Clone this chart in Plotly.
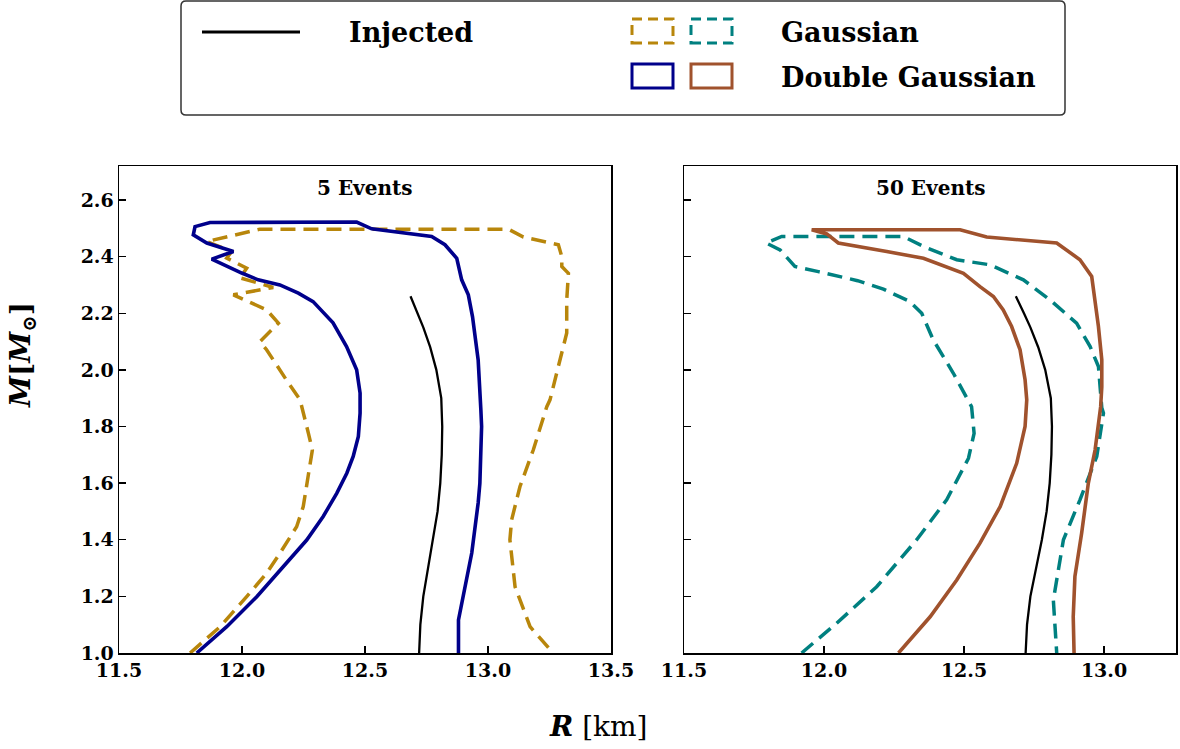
import plotly.graph_objects as go

# ---------------- data ----------------
inj_R = [12.72, 12.725, 12.737, 12.757, 12.778, 12.795, 12.806, 12.812, 12.814, 12.81, 12.79, 12.765, 12.737, 12.714, 12.685]
inj_M = [1.00, 1.10, 1.20, 1.30, 1.40, 1.50, 1.60, 1.70, 1.80, 1.90, 2.00, 2.08, 2.15, 2.20, 2.26]

# 5 events, Gaussian (dashed gold)
g5_R = [11.789, 11.911, 12.019, 12.10, 12.154, 12.222, 12.249, 12.263, 12.276, 12.286, 12.27, 12.249, 12.236,
        12.18, 12.10, 12.073, 12.148, 12.10, 11.965, 12.127, 11.992, 12.019, 11.938, 11.958, 11.856,
        12.073, 13.083, 13.144, 13.286, 13.30, 13.30, 13.327, 13.32, 13.32, 13.293, 13.252, 13.239,
        13.184, 13.13, 13.096, 13.089, 13.11, 13.171, 13.265]
g5_M = [1.0, 1.093, 1.199, 1.282, 1.352, 1.446, 1.517, 1.588, 1.658, 1.717, 1.776, 1.847, 1.894,
        1.965, 2.071, 2.10, 2.165, 2.212, 2.265, 2.291, 2.325, 2.359, 2.395, 2.418, 2.453,
        2.497, 2.497, 2.469, 2.442, 2.40, 2.365, 2.341, 2.247, 2.13, 2.035, 1.894, 1.87,
        1.717, 1.588, 1.47, 1.40, 1.234, 1.093, 1.0]

# 5 events, Double Gaussian (solid blue)
dg5_R = [11.816, 11.938, 12.06, 12.168, 12.263, 12.33, 12.385, 12.426, 12.452, 12.473, 12.48, 12.48,
         12.466, 12.425, 12.37, 12.289, 12.229, 12.154, 12.066, 11.999, 11.924, 11.877, 11.965, 11.857,
         11.802, 11.809, 11.870, 12.466, 12.527, 12.771, 12.825, 12.873, 12.893, 12.92, 12.937, 12.96,
         12.971, 12.974, 12.967, 12.96, 12.934, 12.90, 12.88, 12.88]
dg5_M = [1.0, 1.093, 1.199, 1.305, 1.399, 1.482, 1.564, 1.635, 1.694, 1.765, 1.847, 1.918,
         2.0, 2.082, 2.166, 2.241, 2.271, 2.300, 2.318, 2.342, 2.371, 2.391, 2.418, 2.448,
         2.477, 2.506, 2.5205, 2.522, 2.498, 2.471, 2.442, 2.394, 2.318, 2.265, 2.188, 2.035,
         1.859, 1.80, 1.60, 1.53, 1.353, 1.199, 1.117, 1.0]

# 50 events, Gaussian (dashed teal)
g50_R = [11.92, 12.045, 12.188, 12.331, 12.438, 12.516, 12.536, 12.527, 12.462, 12.39, 12.349, 12.307,
         12.212, 12.12, 11.98, 11.896, 11.843, 11.793, 11.849, 12.283, 12.355, 12.474, 12.593, 12.712,
         12.807, 12.902, 12.95, 12.98, 12.992, 12.998, 12.974, 12.914, 12.855, 12.819, 12.831]
g50_M = [1.0, 1.105, 1.234, 1.40, 1.541, 1.688, 1.776, 1.87, 1.988, 2.106, 2.20, 2.241,
         2.285, 2.315, 2.347, 2.365, 2.424, 2.448, 2.471, 2.471, 2.436, 2.389, 2.371, 2.318,
         2.247, 2.165, 2.083, 2.012, 1.866, 1.847, 1.694, 1.541, 1.40, 1.187, 1.0]

# 50 events, Double Gaussian (solid sienna)
dg50_R = [12.266, 12.379, 12.474, 12.557, 12.629, 12.688, 12.718, 12.724, 12.718, 12.70, 12.67, 12.64,
          12.605, 12.557, 12.498, 12.355, 12.224, 12.051, 12.01, 11.956, 12.486, 12.581, 12.831, 12.914,
          12.956, 12.968, 12.98, 12.992, 12.992, 12.988, 12.968, 12.944, 12.92, 12.896, 12.89, 12.893]
dg50_M = [1.0, 1.128, 1.258, 1.388, 1.517, 1.67, 1.80, 1.894, 1.965, 2.071, 2.153, 2.212,
          2.259, 2.294, 2.341, 2.394, 2.418, 2.448, 2.48, 2.495, 2.495, 2.469, 2.448, 2.389,
          2.33, 2.247, 2.153, 2.035, 1.94, 1.87, 1.717, 1.60, 1.423, 1.27, 1.128, 1.0]

x_ticks_left = [11.5, 12.0, 12.5, 13.0, 13.5]
x_ticks_right = [11.5, 12.0, 12.5, 13.0]
y_ticks = [1.0, 1.2, 1.4, 1.6, 1.8, 2.0, 2.2, 2.4, 2.6]
panel_titles = ["5 Events", "50 Events"]
legend_labels = ["Injected", "Gaussian", "Double Gaussian"]

# ---------------- styling ----------------
W, H = 1180, 749
GOLD = "#B8860B"
TEAL = "#008080"
BLUE = "#00008B"
SIENNA = "#A0522D"
FONT = "DejaVu Serif"
DASH = "15px,8px"


def fx(p):
    return p / W


def fy(p):
    return 1 - p / H


fig = go.Figure()


def add_line(xs, ys, color, width, dash, xa, ya):
    fig.add_trace(go.Scatter(x=xs, y=ys, mode="lines",
                             line=dict(color=color, width=width, dash=dash),
                             xaxis=xa, yaxis=ya, showlegend=False, hoverinfo="skip"))


# left panel
add_line(g5_R, g5_M, GOLD, 3.5, DASH, "x", "y")
add_line(dg5_R, dg5_M, BLUE, 3.6, "solid", "x", "y")
add_line(inj_R, inj_M, "black", 2.3, "solid", "x", "y")
# right panel
add_line(g50_R, g50_M, TEAL, 3.5, DASH, "x2", "y2")
add_line(dg50_R, dg50_M, SIENNA, 3.6, "solid", "x2", "y2")
add_line(inj_R, inj_M, "black", 2.3, "solid", "x2", "y2")

tickfont = dict(family=FONT, size=19, color="black", weight="bold")
common_axis = dict(showgrid=False, zeroline=False, showline=True, linecolor="black", linewidth=1.5,
                   mirror=True, ticks="inside", ticklen=7, tickwidth=1.3, tickcolor="black",
                   tickfont=tickfont, automargin=False)

ydom = [fy(653), fy(166)]
fig.update_layout(
    template="none",
    width=W, height=H,
    margin=dict(l=0, r=0, t=0, b=0, pad=0),
    paper_bgcolor="white", plot_bgcolor="white",
    xaxis=dict(domain=[fx(119), fx(611)], range=[11.5, 13.5], tickvals=x_ticks_left,
               ticktext=[f"{v:.1f}" for v in x_ticks_left], anchor="y", **common_axis),
    yaxis=dict(domain=ydom, range=[1.0, 2.72], tickvals=y_ticks,
               ticktext=[f"{v:.1f}" for v in y_ticks], anchor="x", **common_axis),
    xaxis2=dict(domain=[fx(684), fx(1176)], range=[11.5, 13.257], tickvals=x_ticks_right,
                ticktext=[f"{v:.1f}" for v in x_ticks_right], anchor="y2", **common_axis),
    yaxis2=dict(domain=ydom, range=[1.0, 2.72], tickvals=y_ticks, showticklabels=False,
                anchor="x2", **common_axis),
    showlegend=False,
)

# legend frame (rounded rectangle)
x0, x1, y0, y1, r = 181, 1065, 1, 115, 5
path = (f"M {fx(x0 + r)},{fy(y0)} L {fx(x1 - r)},{fy(y0)} Q {fx(x1)},{fy(y0)} {fx(x1)},{fy(y0 + r)} "
        f"L {fx(x1)},{fy(y1 - r)} Q {fx(x1)},{fy(y1)} {fx(x1 - r)},{fy(y1)} "
        f"L {fx(x0 + r)},{fy(y1)} Q {fx(x0)},{fy(y1)} {fx(x0)},{fy(y1 - r)} "
        f"L {fx(x0)},{fy(y0 + r)} Q {fx(x0)},{fy(y0)} {fx(x0 + r)},{fy(y0)} Z")
shapes = [dict(type="path", xref="paper", yref="paper", path=path,
               line=dict(color="#333333", width=1.5), fillcolor="rgba(255,255,255,0.8)")]
shapes.append(dict(type="line", xref="paper", yref="paper", x0=fx(202), x1=fx(300), y0=fy(32), y1=fy(32),
                   line=dict(color="black", width=2.8)))
for (a, b, c, d, col, dsh) in [(632, 673, 19, 43, GOLD, "10px,6px"), (691, 732, 19, 43, TEAL, "10px,6px"),
                                (632, 673, 64, 88, BLUE, "solid"), (691, 732, 64, 88, SIENNA, "solid")]:
    shapes.append(dict(type="rect", xref="paper", yref="paper", x0=fx(a), x1=fx(b), y0=fy(d), y1=fy(c),
                       line=dict(color=col, width=3, dash=dsh), fillcolor="rgba(0,0,0,0)"))
fig.update_layout(shapes=shapes)

ann = []
legfont = dict(family=FONT, size=27, color="black", weight="bold")
ann.append(dict(text=legend_labels[0], x=fx(347), y=fy(33), xref="paper", yref="paper",
                xanchor="left", yanchor="middle", showarrow=False, font=legfont))
ann.append(dict(text=legend_labels[1], x=fx(779), y=fy(33), xref="paper", yref="paper",
                xanchor="left", yanchor="middle", showarrow=False, font=legfont))
ann.append(dict(text=legend_labels[2], x=fx(779), y=fy(77), xref="paper", yref="paper",
                xanchor="left", yanchor="middle", showarrow=False, font=legfont))
titlefont = dict(family=FONT, size=20, color="black", weight="bold")
ann.append(dict(text=panel_titles[0], x=fx(365), y=fy(188), xref="paper", yref="paper",
                xanchor="center", yanchor="middle", showarrow=False, font=titlefont))
ann.append(dict(text=panel_titles[1], x=fx(930), y=fy(188), xref="paper", yref="paper",
                xanchor="center", yanchor="middle", showarrow=False, font=titlefont))
labfont = dict(family=FONT, size=28, color="black")
ann.append(dict(text="<b><i>R</i></b> [km]", x=fx(598), y=fy(726), xref="paper", yref="paper",
                xanchor="center", yanchor="middle", showarrow=False, font=labfont))
ann.append(dict(text="<b><i>M</i>[<i>M</i><sub>⊙</sub>]</b>", x=fx(22), y=fy(355), xref="paper",
                yref="paper", xanchor="center", yanchor="middle", textangle=-90, showarrow=False,
                font=labfont))
fig.update_layout(annotations=ann)

fig.write_html("out.html", config={"displayModeBar": False, "staticPlot": True},
               post_script="document.body.style.margin='0px';document.body.style.overflow='hidden';")
